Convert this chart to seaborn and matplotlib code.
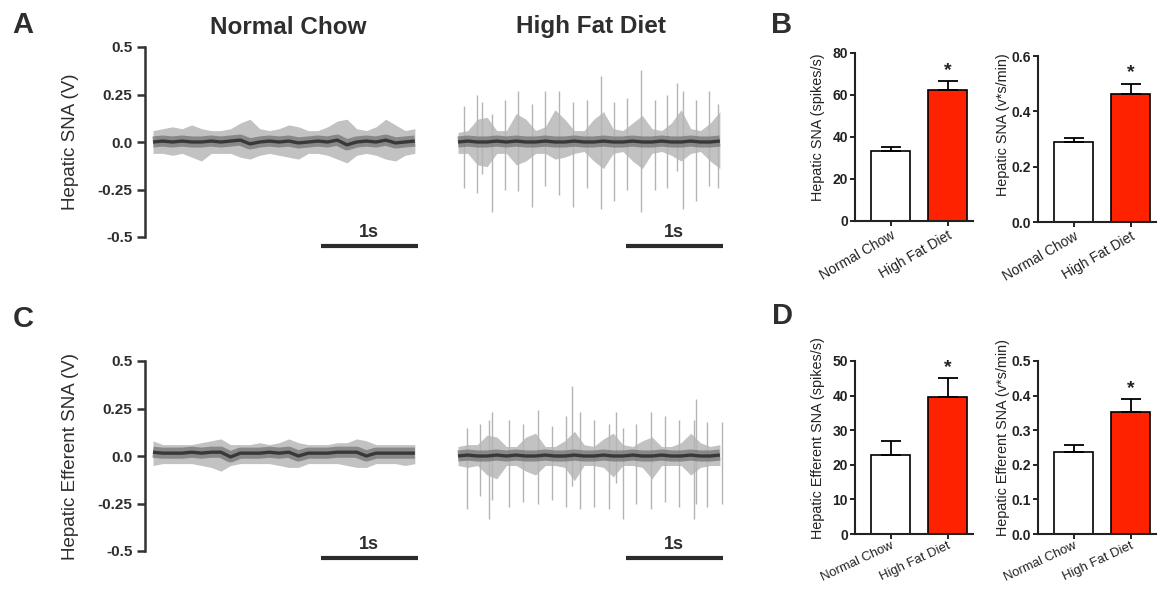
import matplotlib
matplotlib.use("Agg")
import matplotlib.pyplot as plt
import seaborn as sns

sns.set_theme(style="white")
plt.rcParams['font.family'] = ['Liberation Sans', 'DejaVu Sans']

# ---------------- data ----------------
groups = ["Normal Chow", "High Fat Diet"]
bar_colors = ["#ffffff", "#ff2200"]

b_rate_mean = [33.1, 62.2]
b_rate_sem = [2.2, 4.4]
b_int_mean = [0.289, 0.464]
b_int_sem = [0.015, 0.036]
d_rate_mean = [22.9, 39.5]
d_rate_sem = [4.0, 5.5]
d_int_mean = [0.238, 0.354]
d_int_sem = [0.019, 0.036]

volt_ticks = [-0.5, -0.25, 0.0, 0.25, 0.5]
volt_ticklabels = ["-0.5", "-0.25", "0.0", "0.25", "0.5"]

# time samples (s) for the envelope of each recording
trace_t = [0.0, 0.1, 0.2, 0.3, 0.4, 0.5, 0.6, 0.7, 0.8, 0.9,
           1.0, 1.1, 1.2, 1.3, 1.4, 1.5, 1.6, 1.7, 1.8, 1.9,
           2.0, 2.1, 2.2, 2.3, 2.4, 2.5, 2.6, 2.7]

# A - Normal Chow
a_nc_hi = [0.06, 0.07, 0.08, 0.07, 0.09, 0.07, 0.06, 0.06, 0.07, 0.10,
           0.12, 0.07, 0.06, 0.07, 0.09, 0.08, 0.06, 0.06, 0.08, 0.11,
           0.12, 0.07, 0.06, 0.08, 0.12, 0.09, 0.06, 0.07]
a_nc_lo = [-0.06, -0.06, -0.07, -0.06, -0.08, -0.10, -0.06, -0.06, -0.06, -0.08,
           -0.09, -0.07, -0.06, -0.07, -0.08, -0.09, -0.06, -0.06, -0.07, -0.09,
           -0.11, -0.07, -0.06, -0.07, -0.09, -0.10, -0.07, -0.06]
a_nc_base = [0.0, 0.005, 0.0, 0.005, 0.0, 0.0, 0.005, 0.0, 0.005, 0.01,
             -0.01, 0.0, 0.005, 0.0, 0.005, -0.005, 0.0, 0.005, 0.0, 0.01,
             -0.015, 0.0, 0.005, 0.0, 0.01, -0.005, 0.0, 0.005]
a_nc_spk_t = []
a_nc_spk_hi = []
a_nc_spk_lo = []

# A - High Fat Diet
a_hf_hi = [0.05, 0.06, 0.12, 0.13, 0.06, 0.06, 0.15, 0.12, 0.06, 0.08,
           0.17, 0.12, 0.06, 0.06, 0.12, 0.16, 0.07, 0.06, 0.10, 0.14,
           0.07, 0.06, 0.10, 0.17, 0.07, 0.06, 0.10, 0.16]
a_hf_lo = [-0.06, -0.06, -0.12, -0.13, -0.06, -0.06, -0.12, -0.10, -0.06, -0.06,
           -0.09, -0.08, -0.06, -0.05, -0.10, -0.14, -0.06, -0.05, -0.10, -0.14,
           -0.06, -0.05, -0.07, -0.10, -0.06, -0.05, -0.10, -0.14]
a_hf_base = [0.0, 0.005, 0.0, 0.0, 0.005, 0.0, 0.005, 0.0, 0.0, 0.005,
             0.0, 0.0, 0.005, 0.0, 0.0, 0.005, 0.0, 0.0, 0.005, 0.0,
             0.0, 0.005, 0.0, 0.0, 0.005, 0.0, 0.0, 0.005]
a_hf_spk_t = [0.06, 0.20, 0.25, 0.35, 0.48, 0.62, 0.76, 0.90, 1.04, 1.19, 1.33,
              1.47, 1.61, 1.74, 1.89, 2.03, 2.16, 2.26, 2.32, 2.45, 2.59, 2.68]
a_hf_spk_hi = [0.19, 0.25, 0.21, 0.15, 0.22, 0.27, 0.20, 0.27, 0.27, 0.21, 0.22,
               0.35, 0.21, 0.23, 0.38, 0.22, 0.25, 0.31, 0.27, 0.22, 0.27, 0.20]
a_hf_spk_lo = [-0.24, -0.27, -0.17, -0.37, -0.25, -0.26, -0.34, -0.23, -0.28, -0.34, -0.24,
               -0.35, -0.31, -0.25, -0.37, -0.25, -0.24, -0.15, -0.35, -0.31, -0.23, -0.24]

# C - Normal Chow
c_nc_hi = [0.08, 0.06, 0.06, 0.06, 0.06, 0.07, 0.08, 0.09, 0.06, 0.06,
           0.06, 0.07, 0.06, 0.07, 0.09, 0.07, 0.06, 0.06, 0.06, 0.07,
           0.07, 0.09, 0.08, 0.06, 0.06, 0.06, 0.06, 0.06]
c_nc_lo = [-0.05, -0.04, -0.04, -0.04, -0.04, -0.05, -0.06, -0.08, -0.05, -0.04,
           -0.04, -0.04, -0.04, -0.05, -0.06, -0.06, -0.04, -0.04, -0.04, -0.04,
           -0.05, -0.06, -0.06, -0.04, -0.04, -0.04, -0.05, -0.04]
c_nc_base = [0.02, 0.015, 0.015, 0.015, 0.02, 0.015, 0.02, 0.02, -0.005, 0.015,
             0.015, 0.015, 0.02, 0.015, 0.02, 0.0, 0.015, 0.015, 0.015, 0.02,
             0.02, 0.02, 0.0, 0.015, 0.015, 0.015, 0.015, 0.015]
c_nc_spk_t = []
c_nc_spk_hi = []
c_nc_spk_lo = []

# C - High Fat Diet
c_hf_hi = [0.05, 0.06, 0.06, 0.11, 0.10, 0.05, 0.05, 0.10, 0.12, 0.05,
           0.05, 0.08, 0.13, 0.06, 0.05, 0.09, 0.12, 0.06, 0.05, 0.08,
           0.10, 0.05, 0.05, 0.07, 0.12, 0.07, 0.05, 0.06]
c_hf_lo = [-0.05, -0.06, -0.05, -0.10, -0.12, -0.05, -0.05, -0.08, -0.10, -0.05,
           -0.05, -0.06, -0.13, -0.05, -0.05, -0.06, -0.11, -0.05, -0.05, -0.06,
           -0.12, -0.05, -0.05, -0.05, -0.10, -0.06, -0.05, -0.05]
c_hf_base = [0.0, 0.005, 0.0, 0.0, 0.005, 0.0, 0.005, 0.0, 0.0, 0.005,
             0.0, 0.0, 0.005, 0.0, 0.0, 0.005, 0.0, 0.0, 0.005, 0.0,
             0.0, 0.005, 0.0, 0.0, 0.005, 0.0, 0.0, 0.005]
c_hf_spk_t = [0.09, 0.23, 0.32, 0.35, 0.53, 0.67, 0.82, 0.97, 1.11, 1.18, 1.26,
              1.40, 1.56, 1.63, 1.70, 1.84, 1.99, 2.13, 2.28, 2.43, 2.45, 2.57, 2.72]
c_hf_spk_hi = [0.15, 0.17, 0.19, 0.23, 0.19, 0.17, 0.24, 0.16, 0.21, 0.37, 0.23,
               0.19, 0.17, 0.23, 0.15, 0.17, 0.23, 0.21, 0.19, 0.19, 0.30, 0.18, 0.18]
c_hf_spk_lo = [-0.28, -0.21, -0.33, -0.23, -0.27, -0.24, -0.25, -0.23, -0.27, -0.16, -0.28,
               -0.27, -0.28, -0.14, -0.33, -0.25, -0.28, -0.24, -0.27, -0.33, -0.25, -0.27, -0.25]

# ---------------- figure ----------------
W, H = 1161, 591
fig = plt.figure(figsize=(W / 100, H / 100), dpi=100)
fig.patch.set_facecolor("white")
TXT = "#2e2e2e"


def px_axes(l, t, r, b):
    return fig.add_axes([l / W, 1 - b / H, (r - l) / W, (b - t) / H])


def draw_trace(ax, hi, lo, base, spk_t, spk_hi, spk_lo, show_axis, bar_y, txt_y, ylabel=None):
    ax.set_facecolor("none")
    ax.fill_between(trace_t, lo, hi, color="#c2c2c2", lw=0, zorder=1)
    if spk_t:
        ax.vlines(spk_t, spk_lo, spk_hi, color="#b4b4b4", lw=1.0, zorder=2)
    sns.lineplot(x=trace_t, y=base, ax=ax, color="#707070", lw=8, alpha=0.7,
                 zorder=3, solid_capstyle="butt")
    sns.lineplot(x=trace_t, y=base, ax=ax, color="#303030", lw=2.4, alpha=0.9,
                 zorder=4, solid_capstyle="butt")
    ax.set_xlim(-0.0825, 2.753)
    ax.set_ylim(-0.5, 0.5)
    ax.set_xlabel("")
    ax.set_xticks([])
    for s in ["top", "right", "bottom"]:
        ax.spines[s].set_visible(False)
    if show_axis:
        ax.spines["left"].set_linewidth(1.8)
        ax.spines["left"].set_color("#333333")
        ax.spines["left"].set_bounds(-0.5, 0.5)
        ax.set_yticks(volt_ticks)
        ax.set_yticklabels(volt_ticklabels)
        ax.tick_params(axis="y", left=True, length=6, width=1.8, colors="#333333",
                       labelsize=11, pad=3)
        for lb in ax.get_yticklabels():
            lb.set_fontweight("bold")
            lb.set_color(TXT)
        ax.set_ylabel(ylabel, fontsize=13.5, color=TXT)
        ax.yaxis.set_label_coords(-0.24, 0.5)
    else:
        ax.spines["left"].set_visible(False)
        ax.set_yticks([])
        ax.set_ylabel("")
    ax.plot([1.73, 2.73], [bar_y, bar_y], color="#2b2b2b", lw=3,
            solid_capstyle="butt", clip_on=False)
    ax.text(2.23, txt_y, "1s", ha="center", va="bottom", fontsize=13,
            fontweight="bold", color=TXT, clip_on=False)


ax = px_axes(145, 47, 420, 237)
draw_trace(ax, a_nc_hi, a_nc_lo, a_nc_base, a_nc_spk_t, a_nc_spk_hi, a_nc_spk_lo,
           True, -0.547, -0.52, "Hepatic SNA (V)")
ax = px_axes(450, 47, 725, 237)
draw_trace(ax, a_hf_hi, a_hf_lo, a_hf_base, a_hf_spk_t, a_hf_spk_hi, a_hf_spk_lo,
           False, -0.547, -0.52)
ax = px_axes(145, 361, 420, 551)
draw_trace(ax, c_nc_hi, c_nc_lo, c_nc_base, c_nc_spk_t, c_nc_spk_hi, c_nc_spk_lo,
           True, -0.537, -0.51, "Hepatic Efferent SNA (V)")
ax = px_axes(450, 361, 725, 551)
draw_trace(ax, c_hf_hi, c_hf_lo, c_hf_base, c_hf_spk_t, c_hf_spk_hi, c_hf_spk_lo,
           False, -0.537, -0.51)


def draw_bars(box, means, sems, ymax, yticks, yticklabels, ylabel, label_xy,
              xrot=30, xsize=10, xpad=2):
    ax = px_axes(*box)
    ax.set_facecolor("none")
    sns.barplot(x=groups, y=means, hue=groups, palette=bar_colors, legend=False,
                saturation=1, width=0.684, edgecolor="black", linewidth=1.2,
                ax=ax, zorder=2)
    ax.errorbar([0, 1], means, yerr=[[0, 0], sems], fmt="none", ecolor="black",
                elinewidth=1.3, capsize=7, capthick=1.3, zorder=5)
    ax.annotate("*", xy=(1, means[1] + sems[1]), xytext=(0, 4.5),
                textcoords="offset points", ha="center", va="baseline",
                fontsize=14, fontweight="bold", color="#222222")
    ax.set_xlim(-0.623, 1.447)
    ax.set_ylim(0, ymax)
    ax.set_yticks(yticks)
    ax.set_yticklabels(yticklabels)
    for s in ["top", "right"]:
        ax.spines[s].set_visible(False)
    for s in ["left", "bottom"]:
        ax.spines[s].set_linewidth(1.5)
        ax.spines[s].set_color("#222222")
    ax.tick_params(axis="y", left=True, length=3.5, width=1.4, labelsize=10,
                   pad=1.5, colors="#222222")
    ax.tick_params(axis="x", bottom=True, length=3.5, width=1.4, labelsize=xsize,
                   pad=xpad, colors="#222222")
    for lb in ax.get_yticklabels():
        lb.set_fontweight("bold")
    for lb in ax.get_xticklabels():
        lb.set_rotation(xrot)
        lb.set_ha("right")
        lb.set_rotation_mode("anchor")
    ax.set_xlabel("")
    ax.set_ylabel(ylabel, fontsize=10.4, color="#222222")
    ax.yaxis.set_label_coords(*label_xy)
    return ax


draw_bars((855, 53, 973, 221), b_rate_mean, b_rate_sem, 80,
          [0, 20, 40, 60, 80], ["0", "20", "40", "60", "80"],
          "Hepatic SNA (spikes/s)", (-0.254, 0.556))
draw_bars((1038, 56, 1156, 222), b_int_mean, b_int_sem, 0.6,
          [0.0, 0.2, 0.4, 0.6], ["0.0", "0.2", "0.4", "0.6"],
          "Hepatic SNA (v*s/min)", (-0.237, 0.584))
draw_bars((855, 361, 973, 534), d_rate_mean, d_rate_sem, 50,
          [0, 10, 20, 30, 40, 50], ["0", "10", "20", "30", "40", "50"],
          "Hepatic Efferent SNA (spikes/s)", (-0.254, 0.555),
          xrot=25, xsize=9.4, xpad=0.8)
draw_bars((1038, 361, 1156, 534), d_int_mean, d_int_sem, 0.5,
          [0.0, 0.1, 0.2, 0.3, 0.4, 0.5], ["0.0", "0.1", "0.2", "0.3", "0.4", "0.5"],
          "Hepatic Efferent SNA (v*s/min)", (-0.237, 0.555),
          xrot=25, xsize=9.4, xpad=0.8)

# titles and panel letters
fig.text(288 / W, 1 - 27 / H, "Normal Chow", ha="center", va="center",
         fontsize=17.5, fontweight="bold", color=TXT)
fig.text(591 / W, 1 - 27 / H, "High Fat Diet", ha="center", va="center",
         fontsize=17.5, fontweight="bold", color=TXT)
for letter, x, y in [("A", 23, 25), ("B", 782, 25), ("C", 23, 319), ("D", 782, 316)]:
    fig.text(x / W, 1 - y / H, letter, ha="center", va="center", fontsize=21,
             fontweight="bold", color=TXT)

fig.savefig("out.png", dpi=100, facecolor="white")
